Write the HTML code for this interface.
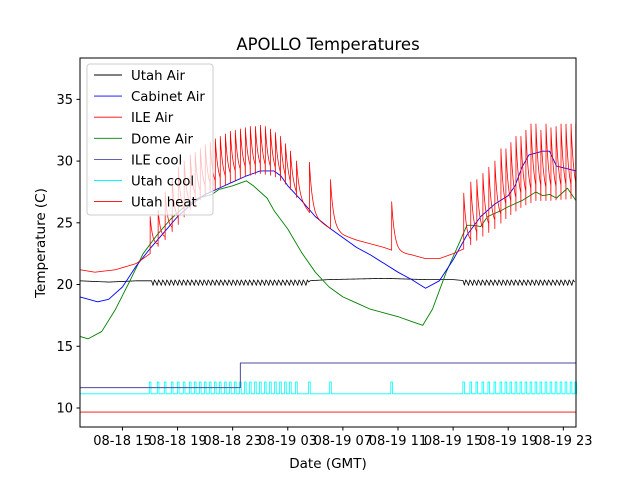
<!DOCTYPE html>
<html><head><meta charset="utf-8"><style>
body{margin:0;background:#fff}
svg text{font-family:"DejaVu Sans","Liberation Sans",sans-serif;fill:#000}
</style></head><body>
<svg id="chart" width="640" height="480" viewBox="0 0 640 480" xmlns="http://www.w3.org/2000/svg">
<rect width="640" height="480" fill="#fff"/>
<text x="328" y="50" font-size="16.5" text-anchor="middle">APOLLO Temperatures</text>
<g id="plot"></g>
<g id="axes"></g>
<text x="328" y="468" font-size="13.5" text-anchor="middle">Date (GMT)</text>
<text transform="translate(45,243) rotate(-90)" font-size="13.5" text-anchor="middle">Temperature (C)</text>
<g id="legend"></g>
</svg>
<script>
// hours since 08-18 00:00
const xTickHours=[15,19,23,27,31,35,39,43,47];
const xTickLabels=["08-18 15","08-18 19","08-18 23","08-19 03","08-19 07","08-19 11","08-19 15","08-19 19","08-19 23"];
const yTicks=[10,15,20,25,30,35];
const ileAirBaseH=[11.92,13,14.5,16,17,18,19,20,21,22,23,24,25,26,27,28,29,30,31,32,33,34,34.5,35,36,37,38,39,40,41,42,43,44,45,46,47,47.92];
const ileAirBaseT=[21.2,21.0,21.2,21.7,22.5,23.5,24.8,26.2,27.2,27.8,28.3,28.8,29.0,28.8,28.0,26.5,25.3,24.6,24.0,23.6,23.3,23.0,22.8,22.6,22.4,22.1,22.1,22.5,23.0,23.8,24.5,25.5,26.3,26.8,26.8,26.9,27.0];
const spikeH=[17.01,17.59,18.1,18.61,19.05,19.48,19.92,20.28,20.65,21.01,21.37,21.74,22.1,22.47,22.83,23.19,23.56,23.92,24.28,24.65,25.01,25.37,25.74,26.1,26.47,26.83,27.19,27.63,28.57,30.1,34.54,39.77,40.28,40.72,41.16,41.59,42.03,42.47,42.83,43.19,43.56,43.92,44.28,44.65,45.01,45.37,45.74,46.1,46.47,46.83,47.19,47.56,47.9];
const spikeT=[25.5,26,27.5,28.5,29.5,30,30.5,30.7,31,31.3,31.5,31.8,32,32.2,32.4,32.5,32.6,32.7,32.8,32.8,32.9,32.8,32.6,32.3,32,31.4,30.8,30,29.9,28.5,26.7,27.4,28.3,28.5,29,29.5,30,31,31,31.5,32,32,32.5,33,33,32.5,33,32.7,32.8,33,33,33,33];
const cabinetH=[11.92,13.2,14,15,16,17,18,19,20,21,22,23,24,25,26,26.5,27,28,29,30,31,32,33,34,35,36,37,38,39,40,41,42,43,43.5,44,44.5,45.5,46,46.5,47.92];
const cabinetT=[19.0,18.6,18.8,19.8,21.5,22.9,24.2,25.5,26.5,27.3,27.8,28.3,28.8,29.2,29.2,28.8,28.0,26.8,25.5,24.6,23.8,23.0,22.4,21.7,21.0,20.4,19.7,20.3,22.0,24.0,25.5,26.5,27.2,28.0,29.5,30.5,30.8,30.8,29.6,29.2];
const domeH=[11.92,12.5,13.5,14.5,15.5,16.5,17.5,18.5,19.5,20.5,21.5,22,23,24,24.5,25.5,26,27,28,29,30,31,32,33,34,35,36,36.8,37.5,38.5,39.5,40,40.5,41,41.5,42.5,43,44,45,45.5,46,46.5,47.3,47.92];
const domeT=[15.8,15.6,16.2,18.0,20.2,22.5,24.0,25.3,26.3,27.0,27.3,27.7,28.0,28.4,28.0,27.0,26.0,24.5,22.6,21.0,19.8,19.0,18.5,18.0,17.7,17.4,17.0,16.7,18.0,21.0,23.5,24.8,24.8,24.7,25.5,26.0,26.3,26.8,27.5,27.2,27.3,27.0,27.8,26.8];
const utahAirH=[11.92,14,16,17,28.5,30,34,37,39,40,47.92];
const utahAirT=[20.3,20.2,20.3,20.3,20.3,20.4,20.5,20.4,20.4,20.3,20.3];
const oscStart=[17.2,39.8];
const oscEnd=[28.6,47.92];
const ileCoolStateH=[11.92,23.56,47.92];
const ileCoolStateT=[11.65,13.64,13.64];
const utahCoolBase=11.15, utahCoolOn=12.1;
const utahHeatT=9.67;

const X0=80,X1=576,Y0=58,Y1=427,HMIN=11.92,HMAX=47.92,TMIN=8.46,TMAX=38.35;
const sx=h=>X0+(h-HMIN)/(HMAX-HMIN)*(X1-X0);
const sy=t=>Y1-(t-TMIN)/(TMAX-TMIN)*(Y1-Y0);
const NS="http://www.w3.org/2000/svg";
function interp(hs,ts,h){if(h<=hs[0])return ts[0];for(let i=1;i<hs.length;i++){if(h<=hs[i]){const f=(h-hs[i-1])/(hs[i]-hs[i-1]);return ts[i-1]+f*(ts[i]-ts[i-1]);}}return ts[ts.length-1];}
const plot=document.getElementById('plot');
function line(pts,color,name,w){const p=document.createElementNS(NS,'path');
p.setAttribute('d','M'+pts.map(q=>sx(q[0]).toFixed(2)+','+sy(q[1]).toFixed(2)).join('L'));
p.setAttribute('fill','none');p.setAttribute('stroke',color);p.setAttribute('stroke-width',w||0.9);p.setAttribute('stroke-linejoin','round');


plot.appendChild(p);}
// Utah heat
line([[HMIN,utahHeatT],[HMAX,utahHeatT]],'#ff0000','utah-heat-line');
// Utah cool pulses
{const pts=[[HMIN,utahCoolBase]];spikeH.forEach(h=>{pts.push([h-0.06,utahCoolBase],[h-0.06,utahCoolOn],[h+0.06,utahCoolOn],[h+0.06,utahCoolBase]);});pts.push([HMAX,utahCoolBase]);line(pts,'#00ffff','utah-cool-line',0.8);}
// ILE cool state (purple)
{const pts=[];for(let i=0;i<ileCoolStateH.length;i++){if(i>0)pts.push([ileCoolStateH[i],ileCoolStateT[i-1]]);pts.push([ileCoolStateH[i],ileCoolStateT[i]]);}line(pts,'#4b4ba0','ile-cool-line',1);}
// Utah Air black
{const pts=[];for(let h=HMIN;h<=HMAX;h+=0.1){let t=interp(utahAirH,utahAirT,h);for(let k=0;k<oscStart.length;k++){if(h>=oscStart[k]&&h<=oscEnd[k]){const ph=((h-oscStart[k])/0.3)%1;t+=ph<0.5?-0.45+ph*1.3:0.2-(ph-0.5)*1.3;}}pts.push([h,t]);}line(pts,'#000000','utah-air-line',0.8);}
// Dome air green
line(domeH.map((h,i)=>[h,domeT[i]]),'#008000','dome-air-line',0.9);
// Cabinet air blue
line(cabinetH.map((h,i)=>[h,cabinetT[i]]),'#0000ff','cabinet-air-line',0.9);
// ILE Air red with spikes
{const pts=[];let si=-1;for(let h=HMIN;h<=HMAX+0.001;h+=0.015){while(si+1<spikeH.length&&spikeH[si+1]<=h){si++;const b=interp(ileAirBaseH,ileAirBaseT,spikeH[si]);pts.push([spikeH[si],b],[spikeH[si]+0.004,spikeT[si]]);}
let t=interp(ileAirBaseH,ileAirBaseT,h);if(si>=0){const d=h-spikeH[si];t+=(spikeT[si]-interp(ileAirBaseH,ileAirBaseT,spikeH[si]))*Math.exp(-d/0.22);}pts.push([h,t]);}
line(pts,'#ff0000','ile-air-line',0.8);}
// axes
const ax=document.getElementById('axes');
function el(tag,attrs,parent){const e=document.createElementNS(NS,tag);for(const k in attrs)e.setAttribute(k,attrs[k]);(parent||ax).appendChild(e);return e;}
const frame=el('rect',{x:X0,y:Y0,width:X1-X0,height:Y1-Y0,fill:'none',stroke:'#000','stroke-width':1});


yTicks.forEach(v=>{const y=sy(v);el('line',{x1:X0-3.5,x2:X0,y1:y,y2:y,stroke:'#000'});const t=el('text',{x:X0-7,y:y+4.5,'font-size':13,'text-anchor':'end'});t.textContent=v;

});
xTickHours.forEach((h,i)=>{const x=sx(h);el('line',{x1:x,x2:x,y1:Y1,y2:Y1+3.5,stroke:'#000'});const t=el('text',{x:x,y:Y1+18,'font-size':13,'text-anchor':'middle'});t.textContent=xTickLabels[i];

});
// legend
const lg=document.getElementById('legend');
el('rect',{x:87,y:64,width:126,height:151,rx:3,fill:'#fff','fill-opacity':0.75,stroke:'#ccc'},lg);
const names=["Utah Air","Cabinet Air","ILE Air","Dome Air","ILE cool","Utah cool","Utah heat"];
const cols=["#000000","#0000ff","#ff0000","#008000","#4b4ba0","#00ffff","#ff0000"];
names.forEach((n,i)=>{const y=75+i*21.1;const g=el('g',{},lg);


el('line',{x1:94,x2:122,y1:y,y2:y,stroke:cols[i],'stroke-width':0.9},g);const t=el('text',{x:131,y:y+5,'font-size':13.3},g);t.textContent=n;});
</script>
</body></html>
